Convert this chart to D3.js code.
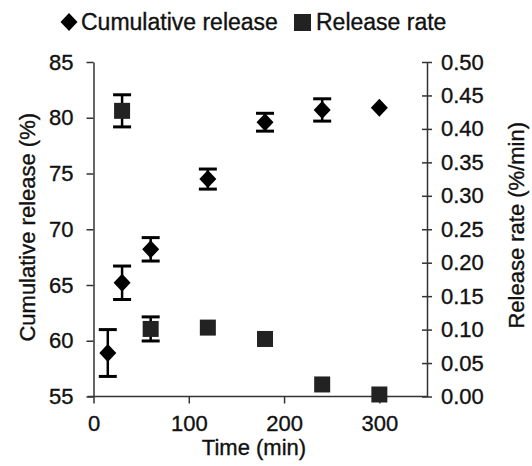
<!DOCTYPE html>
<html><head><meta charset="utf-8">
<script src="https://cdn.jsdelivr.net/npm/d3@7"></script>
<style>
body{margin:0;background:#fff;}
svg text{font-family:"Liberation Sans",Arial,sans-serif;fill:#111;stroke:#111;stroke-width:0.35px;}
</style></head>
<body>
<svg id="c" width="532" height="466"></svg>
<script>
const timeTicks = [0,100,200,300];
const leftTicks = [55,60,65,70,75,80,85];
const rightTicks = [0,0.05,0.10,0.15,0.20,0.25,0.30,0.35,0.40,0.45,0.50];

const cumTime = [15,30,60,120,180,240,300];
const cumVal  = [58.9,65.2,68.2,74.5,79.6,80.7,80.9];
const cumErr  = [2.1,1.5,1.05,0.9,0.8,1.0,0];

const rateTime = [30,60,120,180,240,300];
const rateVal  = [0.427,0.101,0.103,0.086,0.018,0.003];
const rateErr  = [0.024,0.018,0,0,0,0];

const seriesNames = ["Cumulative release","Release rate"];

const svg = d3.select("#c");
const L = 93.5, R = 427, T = 62, B = 396.5;
const FS = 22;

const x = d3.scaleLinear().domain([0,350]).range([L,R]);
const yL = d3.scaleLinear().domain([55,85]).range([B,T]);
const yR = d3.scaleLinear().domain([0,0.5]).range([B,T]);

const axisColor = "#333";

// left axis
const gl = svg.append("g").attr("transform",`translate(${L},0)`)
  .call(d3.axisLeft(yL).tickValues(leftTicks).tickFormat(d3.format("d")).tickSizeInner(7).tickSizeOuter(0).tickPadding(13));
// right axis
const gr = svg.append("g").attr("transform",`translate(${R},0)`)
  .call(d3.axisRight(yR).tickValues(rightTicks).tickFormat(d3.format(".2f")).tickSizeInner(5).tickSizeOuter(0).tickPadding(9));
gr.selectAll(".tick line").attr("x1",-5);
// bottom axis
const gb = svg.append("g").attr("transform",`translate(0,${B})`)
  .call(d3.axisBottom(x).tickValues(timeTicks).tickFormat(d3.format("d")).tickSizeInner(7).tickSizeOuter(0).tickPadding(12));
gb.select(".domain").attr("d",`M${L-6},0H${R}`);

[gl,gr,gb].forEach(g=>{
  g.selectAll(".domain").attr("stroke",axisColor).attr("stroke-width",1.5);
  g.selectAll(".tick line").attr("stroke",axisColor).attr("stroke-width",1.5);
  g.selectAll("text").attr("font-size",FS).attr("fill","#111").style("font-family","'Liberation Sans',Arial,sans-serif");
});

// axis titles
svg.append("text").attr("transform",`translate(35,${(T+B)/2 - 2}) rotate(-90)`)
  .attr("text-anchor","middle").attr("font-size",FS).text("Cumulative release (%)");
svg.append("text").attr("transform",`translate(524,${(T+B)/2 - 4}) rotate(-90)`)
  .attr("text-anchor","middle").attr("font-size",FS).text("Release rate (%/min)");
svg.append("text").attr("x",254).attr("y",455)
  .attr("text-anchor","middle").attr("font-size",FS).text("Time (min)");

// error bars helper
function errBars(times, vals, errs, ys){
  const g = svg.append("g").attr("stroke","#000").attr("stroke-width",3);
  times.forEach((t,i)=>{
    if(!errs[i]) return;
    const cx = x(t), y1 = ys(vals[i]+errs[i]), y2 = ys(vals[i]-errs[i]);
    g.append("line").attr("x1",cx).attr("x2",cx).attr("y1",y1).attr("y2",y2).attr("stroke-width",2.5);
    g.append("line").attr("x1",cx-9).attr("x2",cx+9).attr("y1",y1).attr("y2",y1);
    g.append("line").attr("x1",cx-9).attr("x2",cx+9).attr("y1",y2).attr("y2",y2);
  });
}

errBars(rateTime, rateVal, rateErr, yR);
errBars(cumTime, cumVal, cumErr, yL);

// squares (release rate)
svg.append("g").selectAll("rect").data(rateTime).join("rect")
  .attr("x",(d)=>x(d)-8).attr("y",(d,i)=>yR(rateVal[i])-8)
  .attr("width",16).attr("height",16).attr("fill","#222");

// diamonds (cumulative)
const diamond = (cx,cy,w,h)=>`M${cx},${cy-h}L${cx+w},${cy}L${cx},${cy+h}L${cx-w},${cy}Z`;
svg.append("g").selectAll("path").data(cumTime).join("path")
  .attr("d",(d,i)=>diamond(x(d),yL(cumVal[i]),8.5,9))
  .attr("fill","#000");

// legend
const lg = svg.append("g");
lg.append("path").attr("d",diamond(69,22,8.5,9)).attr("fill","#000");
lg.append("text").attr("x",81).attr("y",30).attr("font-size",23).text(seriesNames[0]);
lg.append("rect").attr("x",294).attr("y",14).attr("width",17).attr("height",17).attr("fill","#222");
lg.append("text").attr("x",316).attr("y",30).attr("font-size",23).text(seriesNames[1]);
</script>
</body></html>
